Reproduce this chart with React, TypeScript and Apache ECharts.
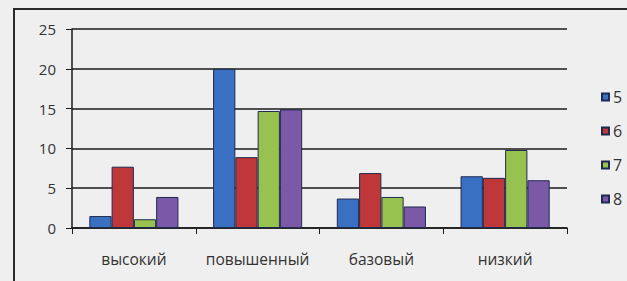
import React, { useEffect, useRef } from "react";
import * as echarts from "echarts";

const categories = ["высокий", "повышенный", "базовый", "низкий"];
const seriesNames = ["5", "6", "7", "8"];
const s5 = [1.5, 20, 3.7, 6.5];
const s6 = [7.7, 8.9, 6.9, 6.3];
const s7 = [1.1, 14.7, 3.9, 9.8];
const s8 = [3.9, 14.9, 2.7, 6.0];
const colors = ["#3a70c2", "#c0373a", "#97c24f", "#7b58a8"];

export default function App() {
  const ref = useRef<HTMLDivElement>(null);
  useEffect(() => {
    const chart = echarts.init(ref.current!, null, { renderer: "svg" });
    const data = [s5, s6, s7, s8];
    chart.setOption({
      animation: false,
      backgroundColor: "#efefef",
      textStyle: { fontFamily: "Open Sans, DejaVu Sans, sans-serif" },
      graphic: [
        {
          type: "rect",
          shape: { x: 14, y: 9, width: 640, height: 300 },
          style: { fill: "none", stroke: "#2a2a2a", lineWidth: 2 },
          silent: true,
        },
      ],
      grid: { left: 72, right: 60, top: 29, bottom: 53 },
      legend: {
        orient: "vertical",
        left: 596,
        top: 84,
        itemWidth: 7,
        itemHeight: 7,
        itemGap: 18,
        icon: "rect",
        textStyle: { fontSize: 16, color: "#333", padding: [0, 0, 0, -1] },
        data: seriesNames,
      },
      xAxis: {
        type: "category",
        data: categories,
        axisLine: { lineStyle: { color: "#1a1a1a", width: 1.5 } },
        axisTick: { show: true, length: 6, lineStyle: { color: "#1a1a1a" } },
        axisLabel: { fontSize: 15.5, color: "#333", margin: 23, interval: 0 },
      },
      yAxis: {
        type: "value",
        min: 0,
        max: 25,
        interval: 5,
        axisLine: { show: true, lineStyle: { color: "#1a1a1a", width: 1.5 } },
        axisTick: { show: true, length: 6, lineStyle: { color: "#1a1a1a" } },
        axisLabel: { fontSize: 15, color: "#333", margin: 16 },
        splitLine: { lineStyle: { color: "#1a1a1a", width: 1.5 } },
      },
      series: seriesNames.map((n, i) => ({
        name: n,
        type: "bar",
        data: data[i],
        barGap: "0%",
        barCategoryGap: "28%",
        itemStyle: { color: colors[i], borderColor: "#1f2a50", borderWidth: 1 },
      })),
    });
    return () => chart.dispose();
  }, []);
  return (
    <div
      ref={ref}
      style={{ position: "fixed", left: 0, top: 0, width: 627, height: 281 }}
    />
  );
}
